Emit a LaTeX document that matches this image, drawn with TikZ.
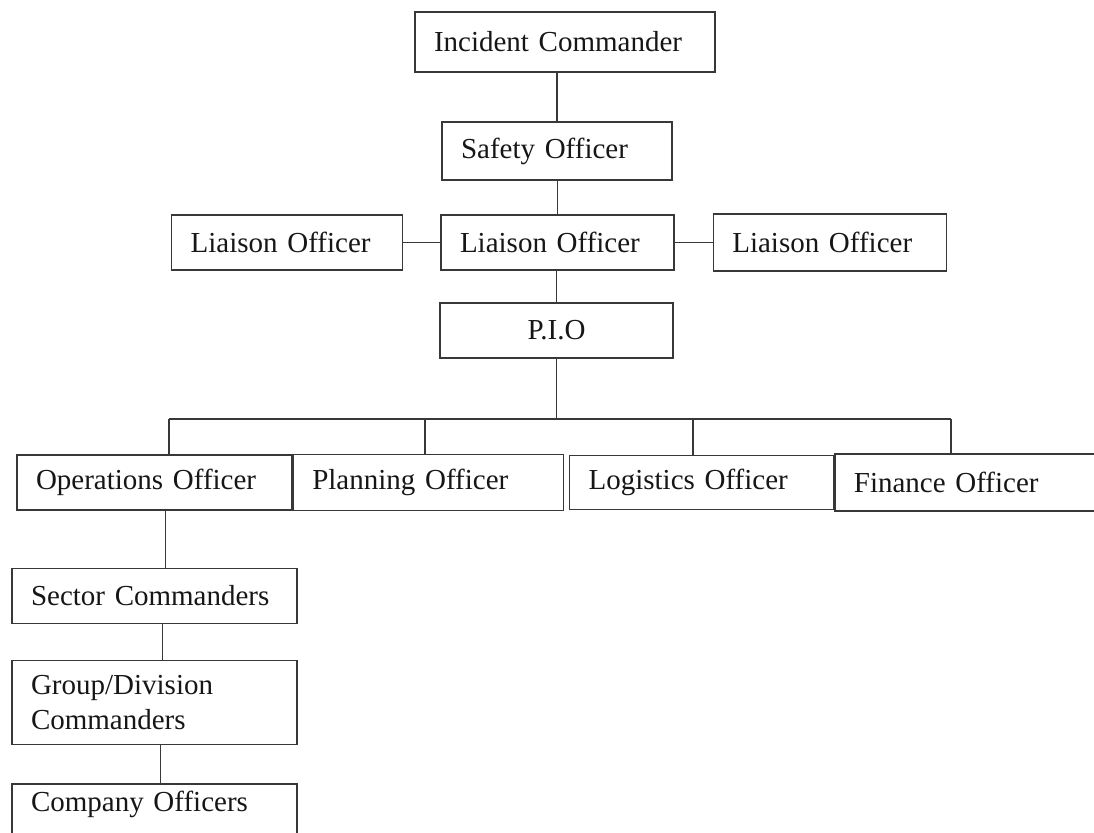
\documentclass[tikz,border=0pt]{standalone}
\usepackage{fontspec}
\setmainfont{Liberation Serif}
\usepackage{xcolor}
\usepackage{tikz}
\usetikzlibrary{positioning}

\definecolor{inkline}{HTML}{383838}
\definecolor{inktext}{HTML}{161616}

\begin{document}
\begin{tikzpicture}[
  x=1pt, y=-1pt,
  font=\fontsize{29}{35}\selectfont,
  post/.style={draw=inkline, line width=1.3pt, text=inktext, align=left, inner xsep=19pt, inner ysep=0pt},
  link/.style={draw=inkline, line width=1.3pt}
]
\useasboundingbox (0,0) rectangle (1094,832);

% command column
\node[post, text width=262pt, minimum height=60pt] (ic) at (565,42) {Incident Commander};
\node[post, text width=192pt, minimum height=58pt] (safety) at (557,151) {Safety Officer};
\node[post, text width=195pt, minimum height=55pt] (liaison) at (557.5,242.5) {Liaison Officer};
\node[post, text width=193pt, minimum height=55pt, left=37pt of liaison] (liaisonL) {Liaison Officer};
\node[post, text width=195pt, minimum height=57pt, right=38pt of liaison] (liaisonR) {Liaison Officer};
\node[post, text width=195pt, minimum height=55pt, align=center] (pio) at (556.5,330.5) {P.I.O};

% section chiefs
\node[post, text width=237pt, minimum height=55pt] (ops) at (154.5,482.5) {Operations Officer};
\node[post, text width=232pt, minimum height=56pt, right=0pt of ops] (plan) {Planning Officer};
\node[post, text width=226pt, minimum height=54pt, right=5pt of plan] (logi) {Logistics Officer};
\node[post, text width=232pt, minimum height=57pt, right=0pt of logi] (fin) {Finance Officer};

% operations branch
\node[post, text width=247pt, minimum height=55pt, below=57pt of ops] (sector) {Sector Commanders};
\node[post, text width=247pt, minimum height=84pt, below=36pt of sector] (group) {Group/Division\\Commanders};
\node[post, text width=247pt, inner ysep=7pt, text depth=40pt, below=38pt of group] (company) {Company Officers};

\draw[link] (safety.north) -- (safety.north |- ic.south);
\draw[link] (liaison.north) -- (liaison.north |- safety.south);
\draw[link] (liaisonL.east) -- (liaisonL.east -| liaison.west);
\draw[link] (liaison.east) -- (liaison.east -| liaisonR.west);
\draw[link] (pio.north) -- (pio.north |- liaison.south);

% bus to the four chiefs
\coordinate (bus) at (553,419);
\coordinate (dops) at (169,419);
\coordinate (dplan) at (425,419);
\coordinate (dlogi) at (693,419);
\coordinate (dfin) at (951,419);
\draw[link] (pio.south) -- (pio.south |- bus);
\draw[link] (dops) -- (dfin);
\foreach \d/\n in {dops/ops, dplan/plan, dlogi/logi, dfin/fin}
  \draw[link] (\d) -- (\d |- \n.north);

\path (ops.south) ++(11,0) coordinate (opsdown);
\path (sector.south) ++(8,0) coordinate (sectordown);
\path (group.south) ++(6,0) coordinate (groupdown);
\draw[link] (opsdown) -- (opsdown |- sector.north);
\draw[link] (sectordown) -- (sectordown |- group.north);
\draw[link] (groupdown) -- (groupdown |- company.north);
\end{tikzpicture}
\end{document}
